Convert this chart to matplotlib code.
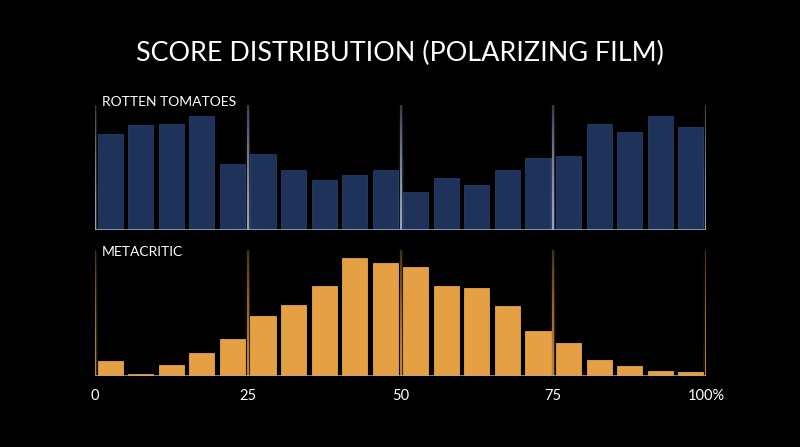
import numpy as np
import matplotlib
matplotlib.use("Agg")
import matplotlib.pyplot as plt
from matplotlib.collections import LineCollection

# ---- data ----
bin_starts = [0, 5, 10, 15, 20, 25, 30, 35, 40, 45, 50, 55, 60, 65, 70, 75, 80, 85, 90, 95]
rotten = [96, 105, 106, 114, 66, 76, 60, 50, 55, 60, 38, 52, 45, 60, 72, 74, 106, 98, 114, 103]
meta = [15, 2, 11, 23, 37, 60, 71, 90, 118, 113, 109, 90, 88, 70, 45, 33, 16, 10, 5, 4]
grid_pos = [0, 25, 50, 75, 100]
tick_labels = ["0", "25", "50", "75", "100%"]
title = "SCORE DISTRIBUTION (POLARIZING FILM)"
panel_titles = ["ROTTEN TOMATOES", "METACRITIC"]

FONT = ["Lato", "DejaVu Sans"]
plt.rcParams["font.family"] = FONT

W, H = 800, 447
fig = plt.figure(figsize=(W / 100, H / 100), dpi=100, facecolor="black")


def ax_rect(x0, x1, ytop, ybot):
    return [x0 / W, 1 - ybot / H, (x1 - x0) / W, (ybot - ytop) / H]


ax1 = fig.add_axes(ax_rect(95, 706, 95, 230))
ax2 = fig.add_axes(ax_rect(95, 706, 245, 376))


def glow_line(ax, x, y0, y1, color, n=60):
    ys = np.linspace(y0, y1, n + 1)
    segs = [[(x, ys[i]), (x, ys[i + 1])] for i in range(n)]
    t = np.linspace(0, 1, n)
    alpha = 0.95 - 0.65 * t ** 1.5
    base = np.array(matplotlib.colors.to_rgb(color))
    for lw, amul in [(4, 0.10), (2.2, 0.22), (1.1, 1.0)]:
        cols = [(*base, a * amul) for a in alpha]
        lc = LineCollection(segs, colors=cols, linewidths=lw, zorder=3,
                            capstyle="butt")
        ax.add_collection(lc)


def setup(ax, values, color, edge, gridcol, base_col, ymax, gtop, label):
    ax.set_facecolor("black")
    ax.set_xlim(0, 100)
    ax.set_ylim(0, ymax)
    centers = [b + 2.5 for b in bin_starts]
    ax.bar(centers, values, width=4.1, color=color, edgecolor=edge,
           linewidth=0.6, zorder=2)
    for g in grid_pos:
        glow_line(ax, g, 0, gtop, gridcol)
    ax.axhline(0, color=base_col, lw=1.1, zorder=4)
    for s in ax.spines.values():
        s.set_visible(False)
    ax.set_xticks([])
    ax.set_yticks([])
    ax.text(1.1, ymax - 1, label, color="white", fontsize=10,
            ha="left", va="top", zorder=5)


setup(ax1, rotten, "#1f3259", "#263c68", "#bccbec", "#9fb0d0", 135, 125,
      panel_titles[0])
setup(ax2, meta, "#e4a043", "#e7a64a", "#e8a24a", "#b5a68f", 131, 126,
      panel_titles[1])

ax2.set_xticks(grid_pos)
ax2.set_xticklabels(tick_labels, color="white", fontsize=10.5)
ax2.tick_params(axis="x", length=0, pad=9)

fig.text(0.5, 1 - 53 / H, title, color="white", fontsize=19.4,
         fontweight="normal", ha="center", va="center")

fig.savefig("out.png", dpi=100, facecolor="black")
